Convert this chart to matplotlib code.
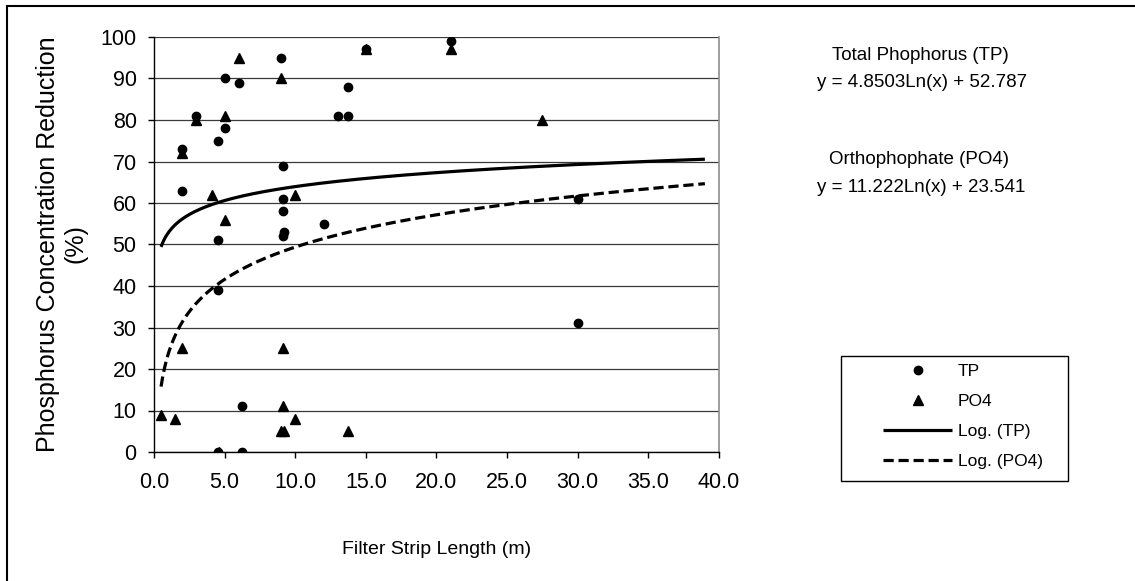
import numpy as np
import matplotlib
matplotlib.use("Agg")
import matplotlib.pyplot as plt
from matplotlib.patches import Rectangle

plt.rcParams['font.family'] = ['Liberation Sans', 'DejaVu Sans']

# datos
tp_x = [2, 2, 3, 4.5, 5, 5, 6, 9, 9.1, 9.1, 9.1, 9.2, 9.1, 12, 13, 13.7, 13.7, 15,
        4.5, 4.5, 4.5, 6.2, 6.2, 21, 30, 30]
tp_y = [73, 63, 81, 75, 90, 78, 89, 95, 69, 61, 58, 53, 52, 55, 81, 81, 88, 97,
        51, 39, 0, 11, 0, 99, 61, 31]

po4_x = [0.5, 1.5, 2, 2, 3, 4.1, 4.6, 5, 5, 6, 9, 9.1, 9.1, 9, 9.2, 10, 10, 13.7,
         15, 21, 27.5]
po4_y = [9, 8, 25, 72, 80, 62, 0, 81, 56, 95, 90, 25, 11, 5, 5, 62, 8, 5,
         97, 97, 80]

# coeficientes de las lineas de tendencia (ecuaciones del grafico)
tp_a, tp_b = 4.8503, 52.787
po4_a, po4_b = 11.222, 23.541
trend_start, trend_end = 0.5, 39.0

x_ticks = np.arange(0, 45, 5)
y_ticks = np.arange(0, 110, 10)

W, H = 1135, 581
fig = plt.figure(figsize=(W / 100, H / 100), dpi=100)
ax = fig.add_axes([154 / W, 1 - 452 / H, (719 - 154) / W, (452 - 37) / H])

x_fit = np.linspace(trend_start, trend_end, 400)
l_tp, = ax.plot(x_fit, tp_a * np.log(x_fit) + tp_b, color='black', lw=2.3,
                solid_capstyle='butt', label='Log. (TP)', zorder=2)
l_po4, = ax.plot(x_fit, po4_a * np.log(x_fit) + po4_b, color='black', lw=2.3,
                 linestyle=(0, (3.2, 1.5)), dash_capstyle='butt',
                 label='Log. (PO4)', zorder=2)
s_tp, = ax.plot(tp_x, tp_y, 'o', color='black', ms=6, label='TP', zorder=3)
s_po4, = ax.plot(po4_x, po4_y, '^', color='black', ms=6.5, label='PO4', zorder=3)

ax.set_xlim(0, 40)
ax.set_ylim(0, 100)
ax.set_xticks(x_ticks)
ax.set_yticks(y_ticks)
ax.set_xticklabels(['%.1f' % v for v in x_ticks])
ax.tick_params(direction='out', length=4.5, width=1, colors='black',
               labelsize=15.5)
ax.tick_params(axis='y', pad=8)
ax.tick_params(axis='x', pad=10)
ax.yaxis.grid(True, color='#3a3a3a', lw=0.9)
ax.set_axisbelow(True)
ax.spines['top'].set_visible(False)
ax.spines['right'].set_color('#8c8c8c')
ax.spines['right'].set_linewidth(1.2)
ax.spines['left'].set_linewidth(1)
ax.spines['bottom'].set_linewidth(1)

fig.text(62 / W, 1 - 244 / H, 'Phosphorus Concentration Reduction\n(%)',
         rotation=90, ha='center', va='center', multialignment='center',
         fontsize=18, linespacing=1.2)
fig.text(436.5 / W, 1 - 549 / H, 'Filter Strip Length (m)', ha='center',
         va='center', fontsize=14)

fig.text(920 / W, 1 - 55 / H, 'Total Phophorus (TP)', ha='center', va='center',
         fontsize=13.5)
fig.text(922 / W, 1 - 83 / H, 'y = 4.8503Ln(x) + 52.787', ha='center',
         va='center', fontsize=13.5)
fig.text(919 / W, 1 - 160 / H, 'Orthophophate (PO4)', ha='center', va='center',
         fontsize=13.5)
fig.text(921 / W, 1 - 188 / H, 'y = 11.222Ln(x) + 23.541', ha='center',
         va='center', fontsize=13.5)

# cuadro de la leyenda
fig.patches.append(Rectangle((841 / W, 1 - 481 / H), 227 / W, 125 / H,
                             transform=fig.transFigure, fill=False,
                             edgecolor='black', lw=1))
leg = ax.legend(handles=[s_tp, s_po4, l_tp, l_po4], loc='upper left',
                bbox_to_anchor=(883 / W, 1 - 364 / H),
                bbox_transform=fig.transFigure, frameon=False, borderpad=0,
                borderaxespad=0, handlelength=4.0, handletextpad=0.3,
                labelspacing=0.86, numpoints=1, fontsize=12.5)

# marco exterior
fig.patches.append(Rectangle((7 / W, -0.1), 2, 1 - 6 / H + 0.1,
                             transform=fig.transFigure, fill=False,
                             edgecolor='black', lw=1.5))

fig.savefig('out.png', dpi=100)
